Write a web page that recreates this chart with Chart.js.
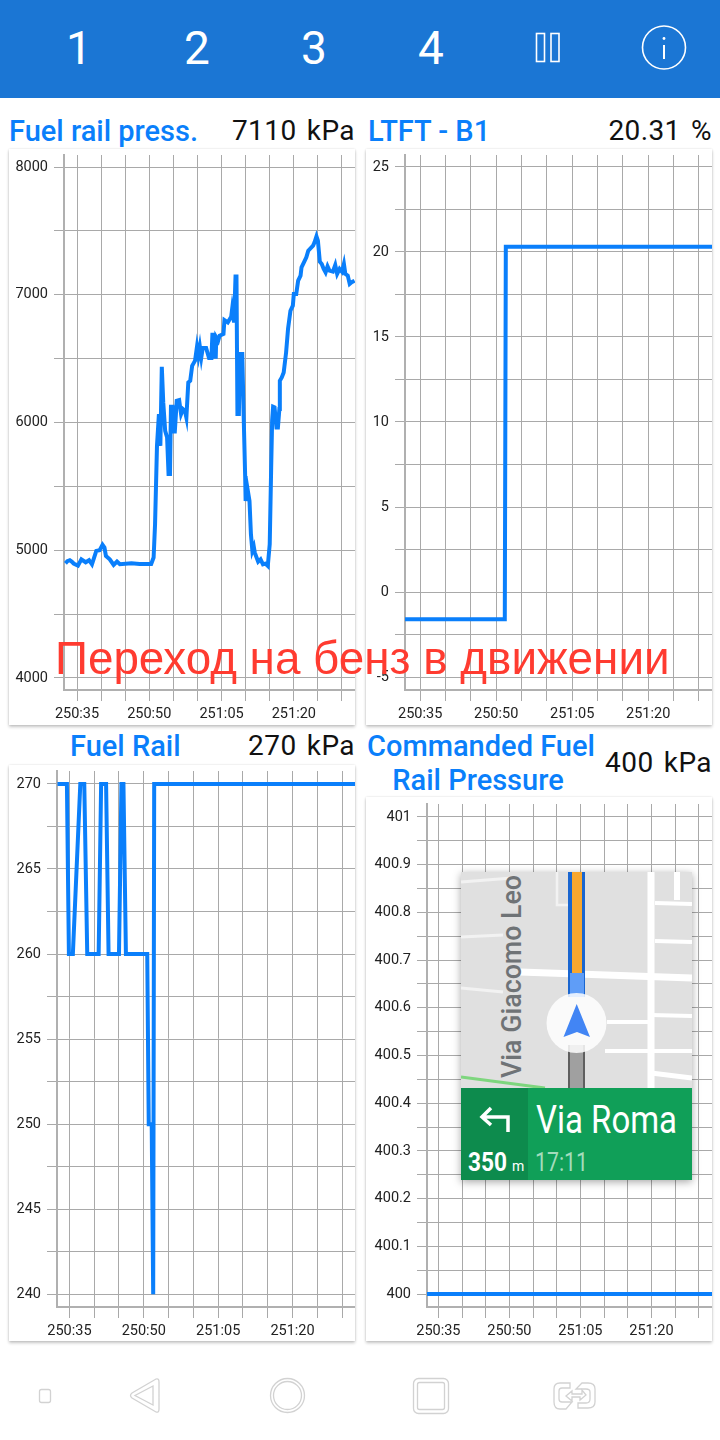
<!DOCTYPE html>
<html lang="en">
<head>
  <meta charset="UTF-8">
  <title>Fuel trims</title>
  <script src="https://cdn.jsdelivr.net/npm/chart.js"></script>
  <style>
    html, body {
      margin: 0;
      background: #fff;
      font-family: Roboto, sans-serif;
    }
    #page {
      position: relative;
      width: 720px;
      height: 1440px;
      overflow: hidden;
    }
    #page > * { position: absolute; }
    .topbar {
      left: 0; top: 0;
      width: 720px; height: 98px;
      background: #1b76d4;
    }
    .tab {
      top: 23px;
      width: 60px;
      text-align: center;
      color: #fff;
      font-size: 46px;
      line-height: 50px;
    }
    .name, .val {
      line-height: 36px;
      white-space: nowrap;
    }
    .name {
      color: #0a7ffb;
      font-size: 29px;
      font-weight: 500;
    }
    .val {
      color: #111;
      font-size: 28px;
      letter-spacing: 0.4px;
      word-spacing: 3px;
      text-align: right;
    }
    .card {
      background: #fff;
      box-shadow: 0 0 2px rgba(0,0,0,.12), 0 2px 3px rgba(0,0,0,.22);
    }
    .note {
      left: 55px; top: 632px;
      color: #ff3b30;
      font-family: "Liberation Sans", sans-serif;
      font-size: 45.8px;
      line-height: 54px;
      white-space: nowrap;
    }
    .map {
      left: 461px; top: 872px;
      box-shadow: 0 2px 8px rgba(0,0,0,.35);
    }
  </style>
</head>
<body>
<div id="page">
  <div class="topbar"></div>
  <div class="tab" style="left:49px">1</div>
  <div class="tab" style="left:167px">2</div>
  <div class="tab" style="left:284px">3</div>
  <div class="tab" style="left:401px">4</div>
  <svg style="left:520px;top:20px" width="170" height="56" fill="none" stroke="#fff">
    <rect x="16.5" y="13.5" width="8" height="28" stroke-width="1.6"/>
    <rect x="31" y="13.5" width="8" height="28" stroke-width="1.6"/>
    <circle cx="144" cy="27.5" r="21.5" stroke-width="1.6"/>
    <circle cx="144" cy="18.5" r="1.4" fill="#fff" stroke="none"/>
    <line x1="144" y1="25" x2="144" y2="39" stroke-width="2"/>
  </svg>

  <div class="name" style="left:9px;top:113px">Fuel rail press.</div>
  <div class="val" style="right:365px;top:113px">7110 kPa</div>
  <div class="name" style="left:368px;top:113px">LTFT - B1</div>
  <div class="val" style="right:8px;top:113px">20.31 %</div>
  <div class="name" style="left:70px;top:728px">Fuel Rail</div>
  <div class="val" style="right:365px;top:728px">270 kPa</div>
  <div class="name" style="left:361px;width:240px;top:729px;text-align:center;line-height:34px">Commanded Fuel<br><span style="position:relative;left:-3px">Rail Pressure</span></div>
  <div class="val" style="right:8px;top:745px">400 kPa</div>

  <div class="card" style="left:9px;top:149px;width:346px;height:576px"><canvas id="pressChart" width="346" height="576"></canvas></div>
  <div class="card" style="left:366px;top:149px;width:346px;height:576px"><canvas id="ltftChart" width="346" height="576"></canvas></div>
  <div class="card" style="left:9px;top:765px;width:346px;height:576px"><canvas id="railChart" width="346" height="576"></canvas></div>
  <div class="card" style="left:366px;top:797px;width:346px;height:544px"><canvas id="cmdChart" width="346" height="544"></canvas></div>

  <div class="note">Переход на бенз в движении</div>

  <svg class="map" width="231" height="308" viewBox="461 872 231 308" font-family="Roboto, sans-serif">
    <rect x="461" y="872" width="231" height="308" fill="#e0e0e0"/>
    <g stroke="#fff" fill="none">
      <path d="M461 882L512 878M461 937L503 935M461 988L503 992" stroke-width="3" stroke="#f2f2f2"/>
      <path d="M557 872V905H568" stroke-width="2.5" stroke="#f2f2f2"/>
      <path d="M520 972L692 978" stroke-width="7"/>
      <path d="M651 872V1088" stroke-width="7"/>
      <path d="M677 872V900" stroke-width="6"/>
      <path d="M655 903L692 904M655 941L692 942" stroke-width="4"/>
      <path d="M607 1022L651 1022M651 1015L692 1016" stroke-width="4"/>
      <path d="M605 1051L692 1051" stroke-width="4"/>
      <path d="M651 1073L692 1078" stroke-width="5"/>
    </g>
    <path d="M461 1077L545 1088" stroke="#7ed67e" stroke-width="3"/>
    <text transform="translate(521 1078) rotate(-90)" font-size="27" font-weight="500" fill="#6f7376" textLength="203" lengthAdjust="spacingAndGlyphs">Via Giacomo Leo</text>
    <rect x="568" y="872" width="17" height="125" fill="#1a66d0"/>
    <rect x="572" y="872" width="10" height="101" fill="#f9a72e"/>
    <rect x="570" y="973" width="14" height="24" fill="#5f9df7"/>
    <rect x="568" y="1045" width="17" height="43" fill="#5f5f5f"/>
    <rect x="570" y="1045" width="13" height="43" fill="#a0a0a0"/>
    <circle cx="576.5" cy="1023" r="30" fill="#fff" fill-opacity=".84"/>
    <path d="M576.7 1004L590 1037L577 1032L563.5 1037Z" fill="#4285f4"/>
    <rect x="461" y="1088" width="231" height="92" fill="#109f58"/>
    <rect x="461" y="1088" width="67" height="92" fill="#0d8b4d"/>
    <path d="M508 1132V1117H483M491 1108L482 1117L491 1125" fill="none" stroke="#fff" stroke-width="3.5"/>
    <text x="468" y="1171" font-size="25" font-weight="700" fill="#fff" textLength="39" lengthAdjust="spacingAndGlyphs">350</text>
    <text x="512" y="1171" font-size="14" fill="#fff">m</text>
    <text x="536" y="1133" font-size="38" fill="#fff" textLength="141" lengthAdjust="spacingAndGlyphs">Via Roma</text>
    <text x="535" y="1171" font-size="25" fill="#a3dcbc" textLength="53" lengthAdjust="spacingAndGlyphs">17:11</text>
  </svg>

  <svg style="left:0;top:1360px" width="720" height="70" fill="none" stroke="#d2d2d2" stroke-width="1.3">
    <rect x="39.5" y="29.5" width="11" height="13" rx="2"/>
    <path d="M156 19Q159 18 159 22V49Q159 53 156 52L132 38Q129 35.5 132 33Z"/>
    <path d="M153 26V45L135 35.5Z"/>
    <circle cx="287.5" cy="35.5" r="17"/>
    <circle cx="287.5" cy="35.5" r="14"/>
    <rect x="413.5" y="18.5" width="35" height="35" rx="5"/>
    <rect x="417.5" y="22.5" width="27" height="27" rx="2"/>
    <path d="M570 23H560Q554 23 554 29V42Q554 49 560 49H566L572 42H562Q559 42 559 39V31Q559 28 562 28H570Z"/>
    <path d="M578 48H588Q595 48 595 42V29Q595 23 588 23H582L576 29H586Q590 29 590 32V39Q590 43 586 43H578Z"/>
    <path d="M566 36L572 31V34H582V30L586 35L580 40V37H572V41Z"/>
  </svg>
</div>

<script>
  const pressTimes = [15032.6, 15033.0, 15033.5, 15033.9, 15034.3, 15035.2, 15035.9, 15036.8, 15037.5, 15038.1, 15039.0, 15039.7, 15040.3, 15040.7, 15041.0, 15041.8, 15042.6, 15043.3, 15043.9, 15046.3, 15048.0, 15050.4, 15050.9, 15051.2, 15051.6, 15052.0, 15052.3, 15052.6, 15052.9, 15053.3, 15053.7, 15054.0, 15054.3, 15054.5, 15054.8, 15055.1, 15055.3, 15055.7, 15056.2, 15056.6, 15057.0, 15057.4, 15057.7, 15058.1, 15058.5, 15058.9, 15059.5, 15059.9, 15060.2, 15060.5, 15060.8, 15061.1, 15061.8, 15062.4, 15062.9, 15063.1, 15063.4, 15063.6, 15063.8, 15063.9, 15064.3, 15064.6, 15065.4, 15065.6, 15066.3, 15067.0, 15067.2, 15067.6, 15067.9, 15068.1, 15068.3, 15068.6, 15068.8, 15069.3, 15069.6, 15069.9, 15070.0, 15070.4, 15070.8, 15071.1, 15071.4, 15071.7, 15071.9, 15072.6, 15073.1, 15073.6, 15074.1, 15074.6, 15075.0, 15075.3, 15075.5, 15075.7, 15076.0, 15076.4, 15076.7, 15077.0, 15077.1, 15077.5, 15077.9, 15078.4, 15078.8, 15079.3, 15079.8, 15080.0, 15080.5, 15080.9, 15081.4, 15081.6, 15082.1, 15082.6, 15083.0, 15084.0, 15084.3, 15084.7, 15085.0, 15085.4, 15085.8, 15086.2, 15086.6, 15087.0, 15087.4, 15088.1, 15088.6, 15089.0, 15089.5, 15090.0, 15090.4, 15090.7, 15091.2, 15091.6, 15092.0, 15092.6];
  const pressValues = [4898, 4914, 4922, 4911, 4896, 4880, 4929, 4906, 4922, 4890, 4995, 5000, 5042, 5021, 4956, 4929, 4885, 4911, 4890, 4898, 4893, 4893, 4943, 5204, 5817, 6066, 5817, 6436, 6157, 5935, 5882, 5596, 5596, 6123, 6123, 5929, 5929, 6170, 6176, 6066, 6105, 6092, 6039, 6314, 6327, 6444, 6484, 6593, 6523, 6593, 6510, 6583, 6583, 6505, 6505, 6687, 6687, 6515, 6515, 6666, 6640, 6679, 6693, 6802, 6784, 6828, 6889, 6784, 7142, 7142, 6066, 6066, 6536, 6536, 6039, 5582, 5386, 5478, 5386, 5125, 4995, 5026, 4981, 4911, 4929, 4890, 4895, 4877, 5047, 5647, 6013, 6123, 6118, 5961, 5961, 6105, 6327, 6353, 6392, 6549, 6732, 6875, 6915, 7006, 7006, 7110, 7150, 7215, 7254, 7293, 7345, 7385, 7411, 7457, 7424, 7259, 7241, 7202, 7175, 7222, 7189, 7181, 7233, 7163, 7202, 7180, 7241, 7163, 7150, 7085, 7098, 7110];

  const ltftTimes = [15032.0, 15051.7, 15051.9, 15092.6];
  const ltftValues = [-1.6, -1.6, 20.31, 20.31];

  const railTimes = [15032.6, 15034.5, 15034.9, 15035.7, 15037.2, 15038.0, 15038.6, 15040.9, 15041.4, 15042.4, 15042.9, 15045.0, 15045.5, 15045.9, 15046.4, 15050.7, 15051.0, 15051.6, 15051.9, 15052.1, 15092.6];
  const railValues = [270, 270, 260, 260, 270, 270, 260, 260, 270, 270, 260, 260, 270, 270, 260, 260, 250, 250, 240, 270, 270];

  const cmdTimes = [15032.6, 15092.8];
  const cmdValues = [400, 400];

  const pressTicks = [4000, 4500, 5000, 5500, 6000, 6500, 7000, 7500, 8000];
  const pressLabels = [4000, 5000, 6000, 7000, 8000];
  const ltftTicks = [-5, -2.5, 0, 2.5, 5, 7.5, 10, 12.5, 15, 17.5, 20, 22.5, 25];
  const ltftLabels = [-5, 0, 5, 10, 15, 20, 25];
  const railTicks = [240, 242.5, 245, 247.5, 250, 252.5, 255, 257.5, 260, 262.5, 265, 267.5, 270];
  const railLabels = [240, 245, 250, 255, 260, 265, 270];
  const cmdTicks = [400, 400.05, 400.1, 400.15, 400.2, 400.25, 400.3, 400.35, 400.4, 400.45, 400.5, 400.55, 400.6, 400.65, 400.7, 400.75, 400.8, 400.85, 400.9, 400.95, 401];
  const cmdLabels = [400, 400.1, 400.2, 400.3, 400.4, 400.5, 400.6, 400.7, 400.8, 400.9, 401];

  const timeTicks = [15035, 15040, 15045, 15050, 15055, 15060, 15065, 15070, 15075, 15080, 15085, 15090];
  const timeLabels = [15035, 15050, 15065, 15080];

  Chart.defaults.font.family = 'Roboto, sans-serif';

  function makeChart(id, times, values, yTicks, yLabels, box) {
    const gridColor = '#a9a9a9';
    return new Chart(document.getElementById(id), {
      type: 'scatter',
      data: {
        datasets: [{
          data: times.map((t, i) => ({ x: t, y: values[i] })),
          showLine: true,
          borderColor: '#0a7ffb',
          borderWidth: 4,
          pointRadius: 0
        }]
      },
      options: {
        responsive: false,
        animation: false,
        layout: { padding: { top: box.padTop } },
        plugins: { legend: { display: false }, tooltip: { enabled: false } },
        scales: {
          x: {
            type: 'linear',
            min: box.tMin,
            max: box.tMax,
            afterBuildTicks: s => { s.ticks = timeTicks.map(v => ({ value: v })); },
            // keep the plot area where the app has it, labels must not push it in
            afterFit: s => { s.height = box.xHeight; s.paddingLeft = 0; s.paddingRight = 0; },
            border: { color: '#b0b0b0', width: 2 },
            grid: { color: gridColor, tickColor: gridColor, tickLength: 11 },
            ticks: {
              autoSkip: false,
              maxRotation: 0,
              padding: 5,
              color: '#222',
              font: { size: 14.5 },
              callback: v => timeLabels.includes(v)
                ? Math.floor(v / 60) + ':' + String(v % 60).padStart(2, '0')
                : ''
            }
          },
          y: {
            min: box.yMin,
            max: box.yMax,
            afterBuildTicks: s => { s.ticks = yTicks.map(v => ({ value: v })); },
            afterFit: s => { s.width = box.yWidth; s.paddingTop = 0; s.paddingBottom = 0; },
            border: { color: '#b0b0b0', width: 2 },
            grid: { color: gridColor, tickColor: gridColor, tickLength: 10 },
            ticks: {
              autoSkip: false,
              padding: 6,
              color: '#222',
              font: { size: 14.5 },
              callback: v => yLabels.includes(v) ? String(v) : ''
            }
          }
        }
      }
    });
  }

  makeChart('pressChart', pressTimes, pressValues, pressTicks, pressLabels,
    { padTop: 6, xHeight: 35, yWidth: 55, tMin: 15032.3, tMax: 15092.7, yMin: 3906, yMax: 8094 });
  makeChart('ltftChart', ltftTimes, ltftValues, ltftTicks, ltftLabels,
    { padTop: 6, xHeight: 35, yWidth: 39, tMin: 15032.0, tMax: 15092.6, yMin: -5.76, yMax: 25.7 });
  makeChart('railChart', railTimes, railValues, railTicks, railLabels,
    { padTop: 6, xHeight: 34, yWidth: 48, tMin: 15032.5, tMax: 15092.6, yMin: 239.25, yMax: 270.76 });
  makeChart('cmdChart', cmdTimes, cmdValues, cmdTicks, cmdLabels,
    { padTop: 7, xHeight: 34, yWidth: 61, tMin: 15032.6, tMax: 15092.8, yMin: 399.973, yMax: 401.027 });
</script>
</body>
</html>
